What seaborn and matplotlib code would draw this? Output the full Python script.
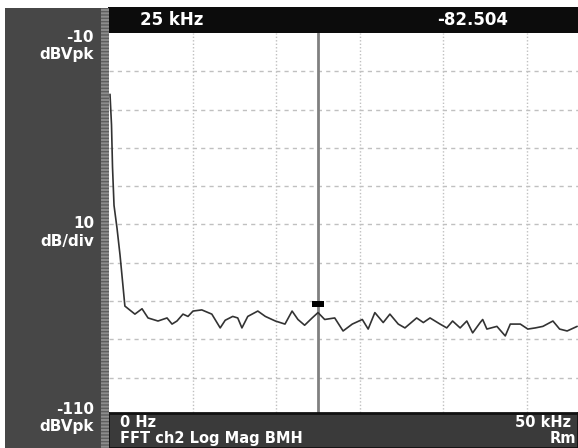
import matplotlib
matplotlib.use("Agg")
import matplotlib.pyplot as plt
from matplotlib.patches import Rectangle
import seaborn as sns
import pandas as pd

# Spectrum trace (kHz, dBVpk)
freq_khz = [0.12, 0.3, 0.42, 0.6, 0.96, 1.32, 1.67, 1.9, 3.1, 3.95, 4.67, 5.86, 6.94, 7.54,
            8.13, 8.85, 9.45, 10.05, 11.1, 12.3, 13.3, 13.9, 14.8, 15.4, 15.9, 16.6, 17.8,
            18.7, 19.9, 21.05, 21.9, 22.6, 23.4, 24.3, 25.0, 25.8, 27.0, 28.0, 29.1, 30.3,
            31.0, 31.8, 32.8, 33.6, 34.6, 35.4, 36.8, 37.6, 38.4, 39.6, 40.4, 41.1, 42.0,
            42.8, 43.5, 44.4, 44.7, 45.2, 46.4, 47.4, 48.0, 49.2, 50.1, 51.0, 51.9, 53.1,
            53.9, 54.8, 56.0]
mag_db = [-26.0, -34.0, -45.0, -55.0, -61.0, -68.0, -76.0, -81.3, -83.4, -82.0, -84.4, -85.2,
          -84.4, -86.0, -85.2, -83.4, -84.0, -82.6, -82.3, -83.4, -87.0, -85.0, -84.0, -84.4,
          -87.0, -84.0, -82.6, -84.0, -85.2, -86.0, -82.6, -84.8, -86.3, -84.4, -83.0, -84.8,
          -84.4, -87.8, -86.0, -84.8, -87.3, -83.0, -85.6, -83.4, -86.0, -87.0, -84.4, -85.6,
          -84.4, -86.0, -87.0, -85.2, -87.0, -85.2, -88.3, -85.6, -84.8, -87.3, -86.6, -89.1,
          -86.0, -86.0, -87.3, -87.0, -86.6, -85.2, -87.3, -87.8, -86.6]

cursor_khz = 25.0
cursor_db = -82.504

top_labels = ["25 kHz", "-82.504"]
left_labels = [("-10", "dBVpk"), ("10", "dB/div"), ("-110", "dBVpk")]
bottom_labels = ["0 Hz", "FFT ch2 Log Mag BMH", "50 kHz", "Rm"]

df = pd.DataFrame({"freq": freq_khz, "mag": mag_db})

sns.set_style("white")
plt.rcParams["font.family"] = ["DejaVu Sans"]

W, H = 578, 448
fig = plt.figure(figsize=(W / 100, H / 100), dpi=100)
fig.patch.set_facecolor("white")

def fx(px):
    return px / W

def fy(py):
    return 1 - py / H

# plot area
ax = fig.add_axes([fx(109), fy(416), fx(W - 109), fy(33) - fy(416)])
ax.set_facecolor("white")
ax.set_xlim(0, 56.1)
ax.set_ylim(-110, -10)
for v in range(10, 60, 10):
    ax.axvline(v, color="#c0c0c0", lw=1, ls=(0, (1, 1.5)), zorder=1)
for v in range(-100, -10, 10):
    ax.axhline(v, color="#c0c0c0", lw=1, ls=(0, (3, 3)), zorder=1)

sns.lineplot(data=df, x="freq", y="mag", ax=ax, color="#333333", lw=1.2, zorder=3)
ax.axvline(cursor_khz, color="#808080", lw=2, zorder=2)
box = [(-1, -0.55), (1, -0.55), (1, 0.55), (-1, 0.55), (-1, -0.55)]
ax.plot([cursor_khz], [cursor_db + 1.8], marker=box, ms=9, color="black",
        markeredgewidth=0, zorder=4)
ax.set_xticks([])
ax.set_yticks([])
ax.set_xlabel("")
ax.set_ylabel("")
for s in ax.spines.values():
    s.set_visible(False)

# left panel and striped strip
fig.patches.append(Rectangle((fx(5), 0), fx(96), fy(8), transform=fig.transFigure,
                             facecolor="#474747", edgecolor="none", zorder=0))
fig.patches.append(Rectangle((fx(101), 0), fx(8), fy(8), transform=fig.transFigure,
                             facecolor="#8c8c8c", edgecolor="#5e5e5e", hatch="-----",
                             lw=0, zorder=0))

# top black bar and bottom bar drawn over the axes
top = fig.add_axes([fx(108), fy(33), fx(W - 108), fy(7) - fy(33)])
top.set_facecolor("#0c0c0c")
top.set_xticks([]); top.set_yticks([])
for s in top.spines.values():
    s.set_visible(False)
bot = fig.add_axes([fx(108), 0, fx(W - 108), fy(413)])
bot.set_facecolor("#3a3a3a")
bot.set_xticks([]); bot.set_yticks([])
for s in bot.spines.values():
    s.set_color("#111111")
    s.set_linewidth(2)

txt = dict(color="white", fontweight="bold", fontsize=12)
fig.text(fx(140), fy(20), top_labels[0], ha="left", va="center", **txt)
fig.text(fx(473), fy(20), top_labels[1], ha="center", va="center", **txt)

side = dict(txt, fontsize=11)
left_y = [(38, 54), (223, 241), (409, 426)]
for (a, b), (ya, yb) in zip(left_labels, left_y):
    fig.text(fx(94), fy(ya), a, ha="right", va="center", **side)
    fig.text(fx(94), fy(yb), b, ha="right", va="center", **side)

low = dict(txt, fontsize=10.5)
fig.text(fx(120), fy(422), bottom_labels[0], ha="left", va="center", **low)
fig.text(fx(120), fy(438.5), bottom_labels[1], ha="left", va="center", **low)
fig.text(fx(571), fy(422), bottom_labels[2], ha="right", va="center", **low)
fig.text(fx(576), fy(438.5), bottom_labels[3], ha="right", va="center", **low)

fig.savefig("out.png", dpi=100)
